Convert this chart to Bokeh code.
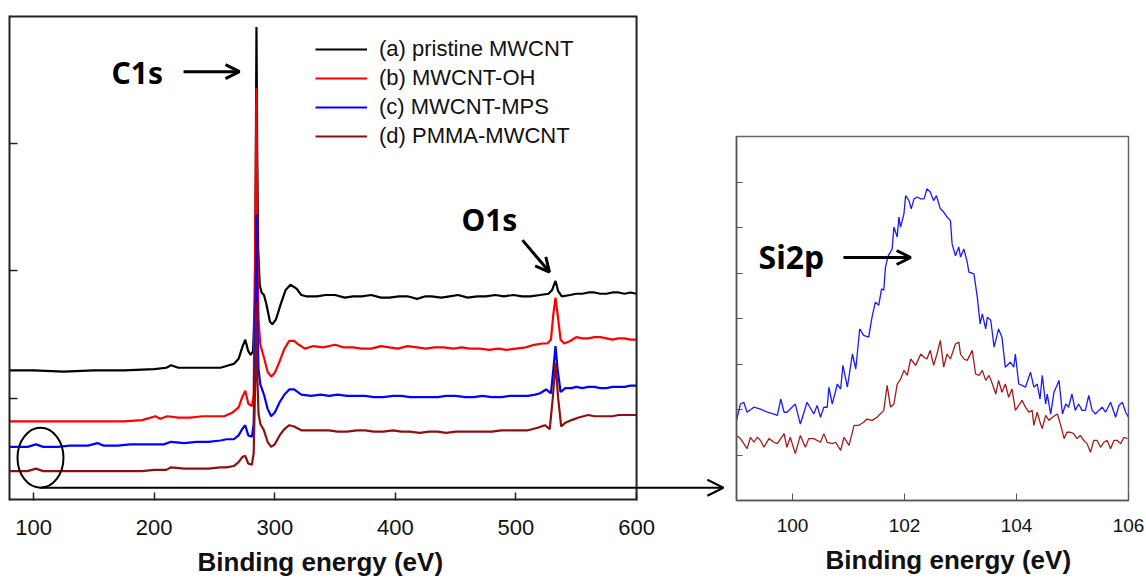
from bokeh.plotting import figure
from bokeh.models import Range1d, FixedTicker, Legend, LegendItem, Arrow, OpenHead, Label, Spacer, Span, Title
from bokeh.layouts import row, column
from bokeh.embed import file_html
from bokeh.resources import INLINE

# ---------------- survey spectra (binding energy in eV, intensity a.u.) ----------------
energy_a = [80, 100, 125, 150, 175, 200, 210, 214, 220, 240, 255, 262, 266, 270, 273, 275.5, 278, 280, 282,
            283.5, 284.3, 284.8, 285.4, 286.2, 287.5, 289, 291, 293, 296, 298, 301, 305, 309, 313, 318, 322,
            326, 335, 342, 350, 358, 365, 372, 380, 388, 395, 403, 410, 418, 425, 430, 438, 445, 452, 460,
            468, 475, 483, 490, 498, 505, 512, 520, 527, 530, 532.8, 535, 538, 545, 550, 555, 560, 565, 570,
            575, 580, 585, 590, 595, 600]
intensity_a = [1.22, 1.22, 1.21, 1.22, 1.22, 1.23, 1.24, 1.26, 1.24, 1.24, 1.24, 1.26, 1.27, 1.31, 1.40, 1.46,
               1.37, 1.34, 1.37, 1.78, 2.95, 3.91, 2.95, 2.17, 1.89, 1.83, 1.81, 1.74, 1.60, 1.58, 1.62, 1.74,
               1.85, 1.89, 1.86, 1.81, 1.80, 1.80, 1.81, 1.81, 1.79, 1.80, 1.80, 1.81, 1.79, 1.79, 1.80, 1.80,
               1.78, 1.80, 1.80, 1.79, 1.80, 1.81, 1.79, 1.80, 1.80, 1.81, 1.80, 1.81, 1.80, 1.80, 1.81, 1.82,
               1.85, 1.92, 1.84, 1.80, 1.81, 1.82, 1.82, 1.83, 1.83, 1.82, 1.82, 1.83, 1.83, 1.82, 1.83, 1.82]

energy_b = [80, 100, 115, 130, 145, 160, 175, 190, 201, 205, 211, 220, 230, 240, 250, 258, 265, 270, 273, 275.5,
            278, 281, 282.5, 283.7, 284.8, 285.6, 286.5, 288, 291, 294, 297, 300, 304, 308, 312, 316, 320, 325,
            332, 340, 350, 357, 365, 372, 380, 388, 395, 402, 410, 418, 425, 432, 440, 448, 455, 462, 470, 478,
            485, 492, 500, 508, 515, 522, 526, 529, 531, 532.8, 534.5, 537, 540, 545, 550, 555, 560, 565, 570,
            575, 580, 585, 590, 595, 600]
intensity_b = [0.82, 0.82, 0.82, 0.82, 0.82, 0.82, 0.82, 0.83, 0.86, 0.84, 0.86, 0.85, 0.85, 0.86, 0.86, 0.86,
               0.89, 0.93, 1.01, 1.06, 0.96, 0.94, 1.03, 2.17, 3.43, 2.17, 1.62, 1.42, 1.32, 1.21, 1.17, 1.20,
               1.29, 1.39, 1.45, 1.45, 1.42, 1.39, 1.41, 1.40, 1.42, 1.40, 1.40, 1.39, 1.39, 1.41, 1.40, 1.39,
               1.41, 1.40, 1.39, 1.40, 1.40, 1.39, 1.40, 1.39, 1.39, 1.38, 1.39, 1.38, 1.39, 1.40, 1.42, 1.43,
               1.43, 1.46, 1.66, 1.79, 1.66, 1.46, 1.43, 1.45, 1.48, 1.47, 1.47, 1.48, 1.48, 1.47, 1.46, 1.47,
               1.47, 1.46, 1.46]

energy_c = [80, 95, 102, 108, 120, 130, 145, 153, 158, 170, 180, 190, 200, 208, 214, 225, 235, 245, 255, 260,
            266, 270, 273, 275.5, 278, 281, 282.5, 283.8, 284.8, 285.6, 286.5, 288, 291, 294, 297, 300, 304, 308,
            312, 316, 322, 330, 338, 345, 352, 360, 368, 375, 382, 390, 398, 405, 412, 420, 428, 435, 442, 450,
            458, 465, 472, 480, 488, 495, 502, 510, 516, 520, 525, 529, 531, 532.8, 534.5, 537, 541, 546, 550,
            555, 560, 565, 570, 575, 580, 585, 590, 595, 600]
intensity_c = [0.62, 0.62, 0.64, 0.62, 0.62, 0.63, 0.63, 0.65, 0.63, 0.63, 0.64, 0.64, 0.64, 0.64, 0.66, 0.65,
               0.66, 0.66, 0.67, 0.68, 0.68, 0.71, 0.76, 0.79, 0.71, 0.70, 0.80, 1.54, 2.44, 1.62, 1.23, 1.11,
               1.03, 0.92, 0.86, 0.89, 0.97, 1.03, 1.07, 1.07, 1.03, 1.02, 1.03, 1.02, 1.03, 1.02, 1.02, 1.02,
               1.01, 1.01, 1.02, 1.02, 1.01, 1.01, 1.01, 1.01, 1.02, 1.02, 1.01, 1.01, 1.02, 1.01, 1.01, 1.02,
               1.02, 1.02, 1.03, 1.04, 1.07, 1.04, 1.23, 1.41, 1.23, 1.05, 1.08, 1.08, 1.09, 1.08, 1.09, 1.09,
               1.08, 1.08, 1.09, 1.09, 1.09, 1.10, 1.10]

energy_d = [80, 95, 102, 108, 120, 130, 145, 160, 175, 190, 200, 210, 214, 225, 235, 245, 255, 260, 266, 270,
            273, 275.5, 278, 281, 282.5, 283.8, 284.8, 285.6, 286.5, 288, 291, 294, 297, 300, 304, 308, 312, 316,
            322, 330, 338, 345, 352, 360, 368, 375, 382, 390, 398, 405, 412, 420, 428, 435, 442, 450, 458, 465,
            472, 480, 488, 495, 502, 510, 518, 524, 528, 530.5, 532.8, 535, 537.5, 541, 546, 552, 560, 565, 570,
            575, 580, 585, 590, 595, 600]
intensity_d = [0.43, 0.43, 0.45, 0.43, 0.43, 0.43, 0.43, 0.43, 0.43, 0.43, 0.44, 0.44, 0.46, 0.45, 0.45, 0.45,
               0.46, 0.46, 0.47, 0.50, 0.54, 0.55, 0.49, 0.48, 0.57, 1.15, 1.76, 1.15, 0.88, 0.80, 0.75, 0.66,
               0.62, 0.64, 0.71, 0.76, 0.79, 0.78, 0.75, 0.75, 0.75, 0.75, 0.74, 0.74, 0.75, 0.75, 0.74, 0.74,
               0.75, 0.74, 0.74, 0.73, 0.74, 0.74, 0.73, 0.74, 0.74, 0.74, 0.74, 0.74, 0.75, 0.75, 0.75, 0.75,
               0.77, 0.79, 0.76, 1.00, 1.28, 1.00, 0.78, 0.81, 0.83, 0.85, 0.87, 0.86, 0.86, 0.86, 0.86, 0.87,
               0.87, 0.87, 0.87]

series_labels = ["(a) pristine MWCNT", "(b) MWCNT-OH", "(c) MWCNT-MPS", "(d) PMMA-MWCNT"]
series_colors = ["#000000", "#ff0000", "#0000ff", "#8b1111"]
survey_ticks = [100, 200, 300, 400, 500, 600]
survey_min, survey_max = 80, 600
survey_ymin, survey_ymax = 0.2, 4.0
axis_title = "Binding energy (eV)"

# ---------------- Si2p high-resolution spectra ----------------
si_energy_c = [99.00, 99.07, 99.13, 99.19, 99.31, 99.43, 99.55, 99.67, 99.73, 99.79, 99.85, 99.90, 100.05,
               100.14, 100.26, 100.38, 100.44, 100.50, 100.56, 100.62, 100.65, 100.71, 100.80, 100.86, 100.90,
               100.98, 101.07, 101.13, 101.20, 101.27, 101.36, 101.42, 101.48, 101.54, 101.59, 101.63, 101.66,
               101.71, 101.75, 101.78, 101.81, 101.87, 101.90, 101.93, 101.99, 102.02, 102.08, 102.12, 102.17,
               102.23, 102.29, 102.35, 102.40, 102.46, 102.52, 102.57, 102.64, 102.70, 102.76, 102.82, 102.85,
               102.91, 102.97, 103.00, 103.06, 103.12, 103.15, 103.24, 103.30, 103.35, 103.39, 103.45, 103.48,
               103.54, 103.60, 103.68, 103.74, 103.80, 103.89, 103.95, 103.98, 104.04, 104.10, 104.16, 104.25,
               104.31, 104.37, 104.42, 104.46, 104.52, 104.55, 104.61, 104.67, 104.76, 104.82, 104.88, 104.93,
               104.99, 105.05, 105.11, 105.17, 105.23, 105.29, 105.35, 105.41, 105.47, 105.53, 105.59, 105.68,
               105.77, 105.83, 105.89, 105.95, 106.00]
si_intensity_c = [1.76, 2.12, 2.16, 1.94, 2.05, 2.01, 1.94, 1.90, 1.87, 2.23, 1.94, 1.94, 2.12, 1.68, 2.16,
                  1.90, 2.09, 1.83, 2.05, 2.05, 2.49, 2.12, 2.56, 2.45, 2.97, 2.49, 3.22, 2.89, 3.77, 3.63,
                  3.59, 4.03, 4.36, 4.29, 4.65, 4.62, 5.13, 5.38, 5.46, 5.53, 6.01, 5.79, 6.23, 6.01, 6.30,
                  6.70, 6.59, 6.41, 6.63, 6.67, 6.63, 6.63, 6.85, 6.78, 6.59, 6.70, 6.41, 6.34, 6.23, 6.15,
                  5.64, 5.38, 5.57, 5.35, 5.53, 5.24, 5.02, 4.98, 4.47, 3.88, 4.10, 3.77, 4.03, 3.96, 3.37,
                  3.77, 3.59, 2.93, 3.04, 2.93, 3.22, 2.56, 2.53, 2.49, 2.82, 2.49, 2.56, 2.23, 2.75, 2.12,
                  2.34, 1.90, 2.38, 2.64, 1.90, 2.12, 2.05, 2.34, 1.98, 2.12, 1.98, 1.98, 2.31, 1.98, 1.90,
                  1.98, 2.05, 1.94, 2.16, 1.83, 2.09, 2.16, 1.94, 1.83]

si_energy_d = [99.00, 99.07, 99.19, 99.25, 99.31, 99.37, 99.43, 99.49, 99.58, 99.67, 99.73, 99.79, 99.85,
               99.90, 99.96, 100.05, 100.14, 100.23, 100.29, 100.38, 100.50, 100.56, 100.62, 100.71, 100.77,
               100.86, 100.92, 101.01, 101.10, 101.18, 101.27, 101.33, 101.42, 101.51, 101.63, 101.69, 101.75,
               101.81, 101.87, 101.93, 101.99, 102.05, 102.11, 102.20, 102.29, 102.35, 102.40, 102.46, 102.52,
               102.58, 102.64, 102.70, 102.76, 102.82, 102.85, 102.91, 102.97, 103.00, 103.06, 103.12, 103.21,
               103.27, 103.33, 103.39, 103.45, 103.51, 103.57, 103.63, 103.68, 103.74, 103.80, 103.86, 103.92,
               103.98, 104.04, 104.10, 104.16, 104.22, 104.28, 104.31, 104.37, 104.43, 104.46, 104.52, 104.58,
               104.64, 104.73, 104.79, 104.85, 104.90, 104.96, 105.02, 105.08, 105.14, 105.20, 105.26, 105.32,
               105.38, 105.44, 105.50, 105.56, 105.62, 105.68, 105.74, 105.80, 105.86, 105.92, 105.98]
si_intensity_d = [1.43, 1.36, 1.14, 1.39, 1.28, 1.39, 1.32, 1.17, 1.36, 1.28, 1.25, 1.36, 1.47, 1.17, 1.39,
                  1.03, 1.43, 1.17, 1.36, 1.36, 1.28, 1.47, 1.28, 1.25, 1.28, 1.10, 1.39, 1.21, 1.65, 1.65,
                  1.72, 1.79, 1.76, 1.83, 1.98, 2.53, 2.05, 2.12, 2.56, 2.67, 2.86, 2.75, 3.11, 2.97, 3.22,
                  3.15, 3.11, 3.30, 2.97, 3.22, 3.52, 2.93, 3.22, 3.11, 3.22, 3.44, 3.48, 3.22, 3.11, 3.08,
                  3.30, 2.78, 2.75, 2.86, 2.64, 2.75, 2.56, 2.34, 2.64, 2.38, 2.56, 2.27, 2.45, 1.98, 2.09,
                  2.20, 2.05, 1.94, 1.98, 1.65, 1.94, 1.68, 1.58, 1.87, 1.76, 1.83, 1.90, 1.65, 1.36, 1.50,
                  1.50, 1.47, 1.36, 1.43, 1.32, 1.25, 1.06, 1.32, 1.32, 1.17, 1.28, 1.32, 1.14, 1.32, 1.32,
                  1.25, 1.39, 1.36]
si_colors = ["#1a1aff", "#a01c1c"]
si_ticks = [100, 102, 104, 106]

TICK_FONT = "Liberation Sans"
NOTE_FONT = "Noto Sans"
FRAME = "#222222"

# ---------------- left: survey ----------------
# the frame region extends into the gap so the zoom arrow can reach the inset;
# the visible box of the survey panel is drawn at the axis limits
p = figure(width=730, height=583, output_backend="svg", toolbar_location=None,
           x_range=Range1d(survey_min, 677.9), y_range=Range1d(survey_ymin, survey_ymax),
           min_border_left=9, min_border_right=0, min_border_top=15, min_border_bottom=81,
           background_fill_color="white", border_fill_color="white")
p.grid.visible = False
p.outline_line_color = None

renderers = []
for ex, iy, col in zip([energy_a, energy_b, energy_c, energy_d],
                       [intensity_a, intensity_b, intensity_c, intensity_d], series_colors):
    renderers.append(p.line(ex, iy, line_color=col, line_width=2.2))

# panel box (top, bottom, right edge at the axis limits)
p.segment(x0=[survey_min, survey_min], y0=[survey_ymax, survey_ymin],
          x1=[survey_max, survey_max], y1=[survey_ymax, survey_ymin], line_color=FRAME, line_width=4)
p.add_layout(Span(location=survey_max, dimension="height", line_color=FRAME, line_width=2))

p.xaxis.ticker = FixedTicker(ticks=survey_ticks)
p.xaxis.major_tick_in = 8
p.xaxis.major_tick_out = 0
p.xaxis.minor_tick_line_color = None
p.xaxis.axis_line_color = None
p.xaxis.major_tick_line_color = FRAME
p.xaxis.major_tick_line_width = 1.5
p.xaxis.major_label_text_font = TICK_FONT
p.xaxis.major_label_text_font_size = "22px"
p.xaxis.major_label_text_color = "#111111"
p.xaxis.major_label_standoff = 19

p.yaxis.ticker = FixedTicker(ticks=[1, 2, 3])
p.yaxis.major_label_overrides = {1: "", 2: "", 3: ""}
p.yaxis.major_tick_in = 8
p.yaxis.major_tick_out = 0
p.yaxis.minor_tick_line_color = None
p.yaxis.axis_line_color = FRAME
p.yaxis.axis_line_width = 2
p.yaxis.major_tick_line_color = FRAME
p.yaxis.major_tick_line_width = 1.5
p.yaxis.major_label_standoff = 0

p.add_layout(Title(text=axis_title, align="left", offset=188, standoff=14, text_font=TICK_FONT,
                   text_font_style="bold", text_font_size="26px", text_color="#111111"), "below")

legend = Legend(items=[LegendItem(label=lab, renderers=[r]) for lab, r in zip(series_labels, renderers)],
                location=(306, 351), background_fill_alpha=0, border_line_color=None,
                label_text_font=TICK_FONT, label_text_font_size="22px", label_text_color="#111111",
                glyph_width=52, glyph_height=22, label_height=22, spacing=3, padding=0, margin=0,
                label_standoff=12)
p.add_layout(legend)

# circled Si region and arrow to the inset
p.ellipse(x=[105.7], y=[0.535], width=38.1, height=0.47, fill_color=None, line_color="black", line_width=2)
p.add_layout(Arrow(end=OpenHead(size=16, line_width=2, line_color="black"), x_start=105.7, y_start=0.30,
                   x_end=672.0, y_end=0.30, line_width=2, line_color="black"))

# peak labels
p.add_layout(Label(x=186.0, y=3.55, text="C1s", text_font=NOTE_FONT, text_font_style="bold",
                   text_font_size="30px", text_color="black", text_align="center", text_baseline="middle"))
p.add_layout(Arrow(end=OpenHead(size=14, line_width=3), x_start=224.3, y_start=3.56, x_end=270.7, y_end=3.56,
                   line_width=3))
p.add_layout(Label(x=478.0, y=2.40, text="O1s", text_font=NOTE_FONT, text_font_style="bold",
                   text_font_size="30px", text_color="black", text_align="center", text_baseline="middle"))
p.add_layout(Arrow(end=OpenHead(size=14, line_width=3), x_start=505.4, y_start=2.24, x_end=527.8, y_end=1.99,
                   line_width=3))

# ---------------- right: Si2p ----------------
q = figure(width=416, height=462, output_backend="svg", toolbar_location=None,
           x_range=Range1d(99, 106), y_range=Range1d(0, 8),
           min_border_left=6, min_border_right=18, min_border_top=15, min_border_bottom=83,
           background_fill_color="white", border_fill_color="white")
q.grid.visible = False
q.outline_line_color = "#666666"
q.outline_line_width = 1.5
q.line(si_energy_c, si_intensity_c, line_color=si_colors[0], line_width=1.3)
q.line(si_energy_d, si_intensity_d, line_color=si_colors[1], line_width=1.3)

q.xaxis.ticker = FixedTicker(ticks=si_ticks)
q.xaxis.major_tick_in = 7
q.xaxis.major_tick_out = 0
q.xaxis.minor_tick_line_color = None
q.xaxis.axis_line_color = "#555555"
q.xaxis.axis_line_width = 1.5
q.xaxis.major_tick_line_color = "#555555"
q.xaxis.major_label_text_font = TICK_FONT
q.xaxis.major_label_text_font_size = "19px"
q.xaxis.major_label_text_color = "#111111"
q.xaxis.major_label_standoff = 18

q.yaxis.ticker = FixedTicker(ticks=[1, 2, 3, 4, 5, 6, 7])
q.yaxis.major_label_overrides = {k: "" for k in [1, 2, 3, 4, 5, 6, 7]}
q.yaxis.major_tick_in = 6
q.yaxis.major_tick_out = 0
q.yaxis.minor_tick_line_color = None
q.yaxis.axis_line_color = "#555555"
q.yaxis.axis_line_width = 1.5
q.yaxis.major_tick_line_color = "#555555"
q.yaxis.major_label_standoff = 0

q.add_layout(Title(text=axis_title, align="left", offset=89, standoff=17, text_font=TICK_FONT,
                   text_font_style="bold", text_font_size="26px", text_color="#111111"), "below")
q.add_layout(Label(x=99.98, y=5.36, text="Si2p", text_font=NOTE_FONT, text_font_style="bold",
                   text_font_size="32px", text_color="black", text_align="center", text_baseline="middle"))
q.add_layout(Arrow(end=OpenHead(size=14, line_width=3), x_start=100.91, y_start=5.34, x_end=102.11, y_end=5.34,
                   line_width=3))

right = column(Spacer(width=416, height=121), q, spacing=0)
layout = row(p, right, spacing=0)
open("out.html", "w").write(file_html(layout, INLINE))
